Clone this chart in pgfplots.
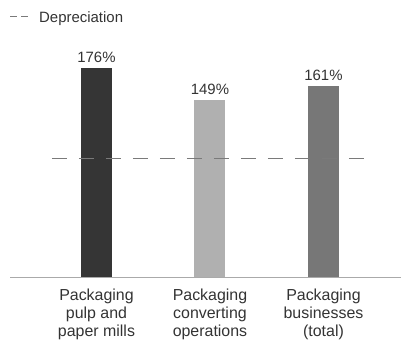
\documentclass[border=0pt]{standalone}
\usepackage{pgfplots}
\pgfplotsset{compat=1.18}
\usepackage{fontspec}
\setmainfont{Liberation Sans}
\definecolor{txt}{HTML}{333333}
\definecolor{barA}{HTML}{353535}
\definecolor{barB}{HTML}{B0B0B0}
\definecolor{barC}{HTML}{777777}
\definecolor{dep}{HTML}{7A7A7A}
\definecolor{axl}{HTML}{AAAAAA}
\begin{document}
\begin{tikzpicture}
\useasboundingbox (0,0) rectangle (401bp,343bp);
\begin{axis}[
  at={(10bp,66bp)}, anchor=south west,
  scale only axis, width=391bp, height=277bp,
  xmin=-0.762, xmax=2.683, ymin=0, ymax=233.3,
  axis lines=none, clip=false,
  ybar, bar width=31bp,
  xtick=\empty, ytick=\empty,
  /pgf/number format/assume math mode=true,
  font=\fontsize{16}{18}\selectfont,
  every node near coord/.append style={font=\fontsize{15}{16}\selectfont, text=txt, yshift=2bp},
  nodes near coords={\pgfmathprintnumber{\pgfplotspointmeta}\%},
]
\addplot[draw=none, fill=barA, bar shift=0pt] coordinates {(0,176)};
\addplot[draw=none, fill=barB, bar shift=0pt] coordinates {(1,149)};
\addplot[draw=none, fill=barC, bar shift=0pt] coordinates {(2,161)};
\addplot[sharp plot, dep, line width=1pt, dash pattern=on 15bp off 12bp, nodes near coords={}, no marks]
  coordinates {(-0.392,100) (2.392,100)};
\draw[axl, line width=1pt] (axis cs:-0.762,0) -- (axis cs:2.683,0);
\node[txt, align=center, anchor=north, font=\fontsize{16}{18}\selectfont] at (axis cs:0,-7) {Packaging\\pulp and\\paper mills};
\node[txt, align=center, anchor=north, font=\fontsize{16}{18}\selectfont] at (axis cs:1,-7) {Packaging\\converting\\operations};
\node[txt, align=center, anchor=north, font=\fontsize{16}{18}\selectfont] at (axis cs:2,-7) {Packaging\\businesses\\(total)};
\end{axis}
% legend
\draw[dep, line width=0.8pt] (10bp,327bp) -- (17bp,327bp);
\draw[dep, line width=0.8pt] (21bp,327bp) -- (28bp,327bp);
\node[txt, anchor=base west, inner sep=0pt, font=\fontsize{15}{16}\selectfont] at (39bp,320bp) {Depreciation};
\end{tikzpicture}
\end{document}
